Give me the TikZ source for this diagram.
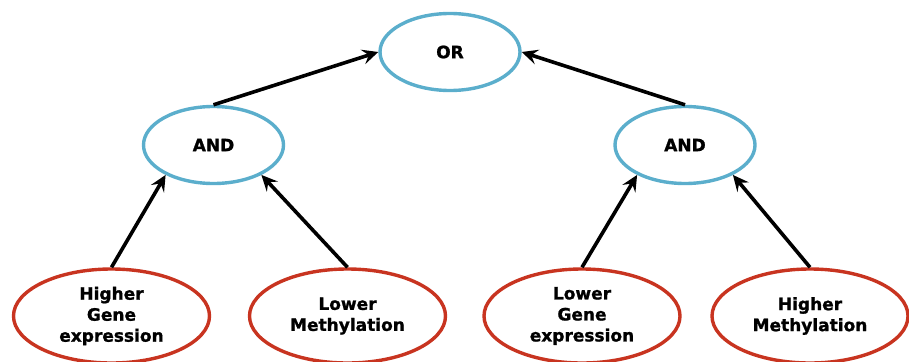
\documentclass[tikz,border=0pt]{standalone}
\usepackage{fontspec}
\setmainfont{DejaVu Sans}[BoldFeatures={FakeBold=1.2}]
\usetikzlibrary{shapes.geometric,arrows.meta}
\definecolor{gateblue}{RGB}{91,174,204}
\definecolor{factred}{RGB}{200,52,32}
\tikzset{
    gate/.style={ellipse, draw=gateblue, line width=3.4pt, minimum width=140pt, minimum height=77pt, inner sep=0pt, font=\bfseries\fontsize{17}{21}\selectfont},
    factor/.style={ellipse, draw=factred, line width=3.4pt, minimum width=196pt, minimum height=94pt, inner sep=0pt, align=center, font=\bfseries\fontsize{17}{21}\selectfont},
    link/.style={line width=3.6pt, -{Stealth[length=16pt, width=15pt, inset=6pt]}}
}
\begin{document}
\begin{tikzpicture}[x=1pt, y=-1pt]
    \useasboundingbox (0,0) rectangle (909,361);
    \node(orgate) [gate] at (450,52) {OR};
    \node(andleft) [gate] at (213.5,145) {AND};
    \node(andright) [gate] at (685,145) {AND};
    \node(highgene) [factor] at (111.5,316) {Higher\\Gene\\expression};
    \node(lowmeth) [factor] at (347.5,316) {Lower\\Methylation};
    \node(lowgene) [factor] at (582,316) {Lower\\Gene\\expression};
    \node(highmeth) [factor] at (810,316) {Higher\\Methylation};
    \draw[link] (andleft.north) -- (orgate.west);
    \draw[link] (andright.north) -- (orgate.east);
    \draw[link] (highgene.north) -- (andleft.212);
    \draw[link] (lowmeth.north) -- (andleft.328);
    \draw[link] (lowgene.north) -- (andright.212);
    \draw[link] (highmeth.north) -- (andright.328);
\end{tikzpicture}
\end{document}
